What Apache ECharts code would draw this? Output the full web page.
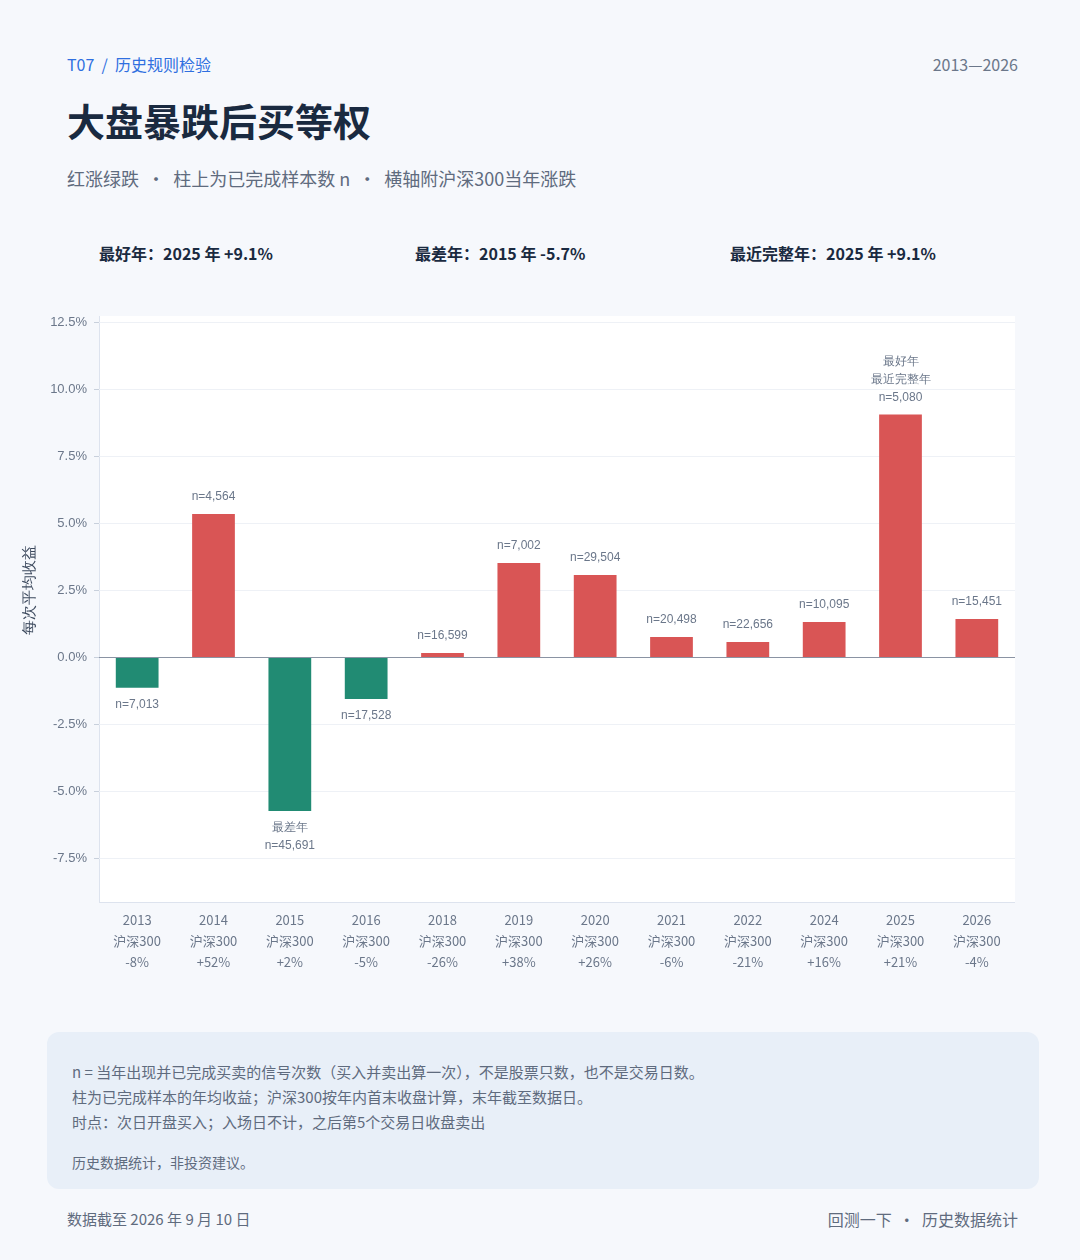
<!DOCTYPE html>
<html><head><meta charset="utf-8">
<script src="https://cdn.jsdelivr.net/npm/echarts@6/dist/echarts.min.js"></script>
<style>
body{margin:0;background:#f6f8fc;font-family:"Noto Sans CJK SC","Noto Sans",sans-serif;}
#wrap{position:relative;width:1080px;height:1260px;}
.t{position:absolute;white-space:nowrap;}
</style></head><body>
<div id="wrap">
<div class="t" style="left:67px;top:52px;font-size:16px;color:#2f6fe0">T07 &nbsp;/&nbsp; 历史规则检验</div>
<div class="t" style="right:62px;top:52px;font-size:16px;color:#6b778a">2013—2026</div>
<div class="t" style="left:67px;top:92px;font-size:38px;font-weight:bold;color:#1a2a40">大盘暴跌后买等权</div>
<div class="t" style="left:67px;top:165px;font-size:18px;color:#5f6b7e">红涨绿跌 &nbsp;·&nbsp; 柱上为已完成样本数 n &nbsp;·&nbsp; 横轴附沪深300当年涨跌</div>
<div class="t" style="left:99px;top:241px;font-size:16px;font-weight:bold;color:#1a2a40">最好年：2025 年 +9.1%</div>
<div class="t" style="left:415px;top:241px;font-size:16px;font-weight:bold;color:#1a2a40">最差年：2015 年 -5.7%</div>
<div class="t" style="left:730px;top:241px;font-size:16px;font-weight:bold;color:#1a2a40">最近完整年：2025 年 +9.1%</div>
<div id="c" style="position:absolute;left:0;top:0;width:1080px;height:1000px"></div>
<div style="position:absolute;left:47px;top:1032px;width:992px;height:157px;background:#e8eff8;border-radius:12px"></div>
<div class="t" style="left:72px;top:1059px;font-size:15px;line-height:25px;color:#5f6b7e">n = 当年出现并已完成买卖的信号次数（买入并卖出算一次），不是股票只数，也不是交易日数。<br>柱为已完成样本的年均收益；沪深300按年内首末收盘计算，末年截至数据日。<br>时点：次日开盘买入；入场日不计，之后第5个交易日收盘卖出</div>
<div class="t" style="left:72px;top:1152px;font-size:14px;color:#5f6b7e">历史数据统计，非投资建议。</div>
<div class="t" style="left:67px;top:1208px;font-size:15px;color:#5f6b7e">数据截至 2026 年 9 月 10 日</div>
<div class="t" style="right:62px;top:1207px;font-size:16px;color:#5f6b7e">回测一下 &nbsp;·&nbsp; 历史数据统计</div>
</div>
<script>
const years=['2013','2014','2015','2016','2018','2019','2020','2021','2022','2024','2025','2026'];
const hs300=['-8%','+52%','+2%','-5%','-26%','+38%','+26%','-6%','-21%','+16%','+21%','-4%'];
const returns=[-1.15,5.34,-5.75,-1.57,0.15,3.51,3.06,0.75,0.56,1.31,9.05,1.42];
const counts=['7,013','4,564','45,691','17,528','16,599','7,002','29,504','20,498','22,656','10,095','5,080','15,451'];
const notes=['','','最差年','','','','','','','','最好年\n最近完整年',''];
const chart=echarts.init(document.getElementById('c'));
chart.setOption({
 graphic:[{type:'rect',z:-10,shape:{x:99,y:316,width:916,height:586},style:{fill:'#fff'}},
  {type:'line',z:-5,shape:{x1:99.5,y1:316,x2:99.5,y2:902},style:{stroke:'#dde3ee',lineWidth:1}},
  {type:'line',z:-5,shape:{x1:99,y1:902.5,x2:1015,y2:902.5},style:{stroke:'#dde3ee',lineWidth:1}}],
 grid:{left:99,right:65,top:322,bottom:142},
 xAxis:{type:'category',data:years.map((y,i)=>y+'\n沪深300\n'+hs300[i]),position:'bottom',offset:44,
  axisLine:{show:false},axisTick:{show:false},
  axisLabel:{color:'#6b778a',fontSize:13,lineHeight:21,margin:8,fontFamily:'Noto Sans CJK SC'}},
 yAxis:{type:'value',min:-7.5,max:12.5,interval:2.5,name:'每次平均收益',nameLocation:'middle',nameGap:62,
  nameTextStyle:{color:'#3d4a5e',fontSize:15},
  axisLabel:{formatter:v=>v.toFixed(1)+'%',color:'#6b778a',fontSize:13,margin:12},
  axisTick:{show:true,length:5,lineStyle:{color:'#c8d0dc'}},
  splitLine:{lineStyle:{color:'#eef1f6'}}},
 series:[{type:'bar',barWidth:'56%',
  data:returns.map((v,i)=>({value:v,itemStyle:{color:v>=0?'#d95555':'#218b73'},
   label:{show:true,position:v>=0?'top':'bottom',distance:8,color:'#6b778a',fontSize:12,lineHeight:18,
    formatter:(notes[i]?notes[i]+'\n':'')+'n='+counts[i]}})),
  markLine:{symbol:'none',silent:true,label:{show:false},lineStyle:{color:'#8a93a3',type:'solid',width:1},data:[{yAxis:0}]}
 }]
});
</script></body></html>
